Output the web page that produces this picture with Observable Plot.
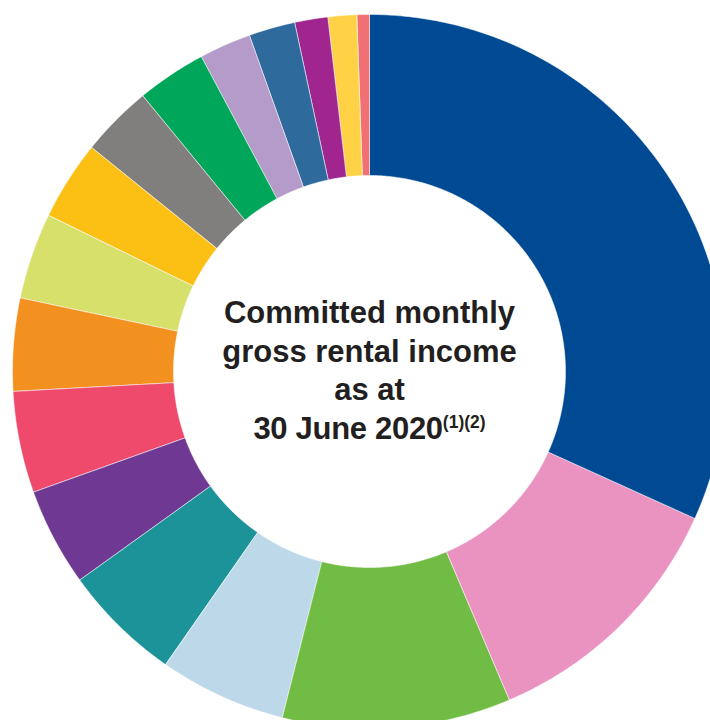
<!DOCTYPE html>
<html>
<head>
<meta charset="utf-8">
<script src="https://cdn.jsdelivr.net/npm/d3@7"></script>
<script src="https://cdn.jsdelivr.net/npm/@observablehq/plot@0.6"></script>
<style>
  html, body { margin: 0; padding: 0; background: #ffffff; }
  #chart svg { display: block; }
</style>
</head>
<body>
<div id="chart"></div>
<script>
// Segments clockwise from 12 o'clock (unlabelled in the source)
const segments = ["Segment 1","Segment 2","Segment 3","Segment 4","Segment 5","Segment 6",
  "Segment 7","Segment 8","Segment 9","Segment 10","Segment 11","Segment 12",
  "Segment 13","Segment 14","Segment 15","Segment 16","Segment 17"];
// Share of committed monthly gross rental income (%)
const shares = [31.8, 11.85, 10.35, 5.75, 5.4, 4.45, 4.6, 4.2, 3.9, 3.6, 3.25, 3.15, 2.35, 2.1, 1.5, 1.3, 0.55];
const colors = ["#004a93","#eb93c0","#70bc44","#bdd8e9","#1b9399","#6f3893","#ef4a6c","#f39120",
  "#d6e06a","#fcc015","#807f7d","#00a65a","#b59bc9","#2f6a9c","#a0258e","#ffd246","#f07073"];
const titleLines = ["Committed monthly", "gross rental income", "as at", "30 June 2020"];
const footnoteMark = "(1)(2)";

const outerR = 357, innerR = 196;

const pie = d3.pie().sort(null).value(d => d.share);
const arcs = pie(segments.map((s, i) => ({segment: s, share: shares[i]})));

// Build ring-slice polygons in chart units (x right, y down), angle clockwise from top
const rows = [];
for (const a of arcs) {
  const n = Math.max(4, Math.ceil((a.endAngle - a.startAngle) / (Math.PI / 360)));
  for (let k = 0; k <= n; k++) {
    const t = a.startAngle + (a.endAngle - a.startAngle) * k / n;
    rows.push({segment: a.data.segment, x: outerR * Math.sin(t), y: -outerR * Math.cos(t)});
  }
  for (let k = n; k >= 0; k--) {
    const t = a.startAngle + (a.endAngle - a.startAngle) * k / n;
    rows.push({segment: a.data.segment, x: innerR * Math.sin(t), y: -innerR * Math.cos(t)});
  }
}

const fontFamily = "'Liberation Sans', Arial, Helvetica, sans-serif";

const plot = Plot.plot({
  width: 710,
  height: 720,
  margin: 0,
  style: {background: "#ffffff", fontFamily},
  x: {domain: [-369, 341], range: [0, 710], axis: null},
  y: {domain: [-371, 349], range: [0, 720], axis: null},
  color: {domain: segments, range: colors},
  marks: [
    Plot.line(rows, {x: "x", y: "y", z: "segment", fill: "segment", stroke: "#ffffff",
      strokeWidth: 0.5, curve: "linear-closed"}),
    Plot.text([titleLines.join("\n")], {
      x: () => 0, y: () => 0, text: d => d,
      fontSize: 31, fontWeight: "bold", fill: "#231f20",
      lineHeight: 1.242, lineAnchor: "middle", textAnchor: "middle", dy: -3
    })
  ]
});

// Superscript footnote markers on the last title line
const textEl = plot.querySelector("g[aria-label='text'] text");
if (textEl) {
  const spans = textEl.querySelectorAll("tspan");
  const last = spans[spans.length - 1];
  last.setAttribute("letter-spacing", "-0.3");
  const sup = document.createElementNS("http://www.w3.org/2000/svg", "tspan");
  sup.setAttribute("font-size", "17.5");
  sup.setAttribute("letter-spacing", "0");
  sup.setAttribute("dy", "-11");
  sup.textContent = footnoteMark;
  last.appendChild(sup);
}

document.getElementById("chart").appendChild(plot);
</script>
</body>
</html>
